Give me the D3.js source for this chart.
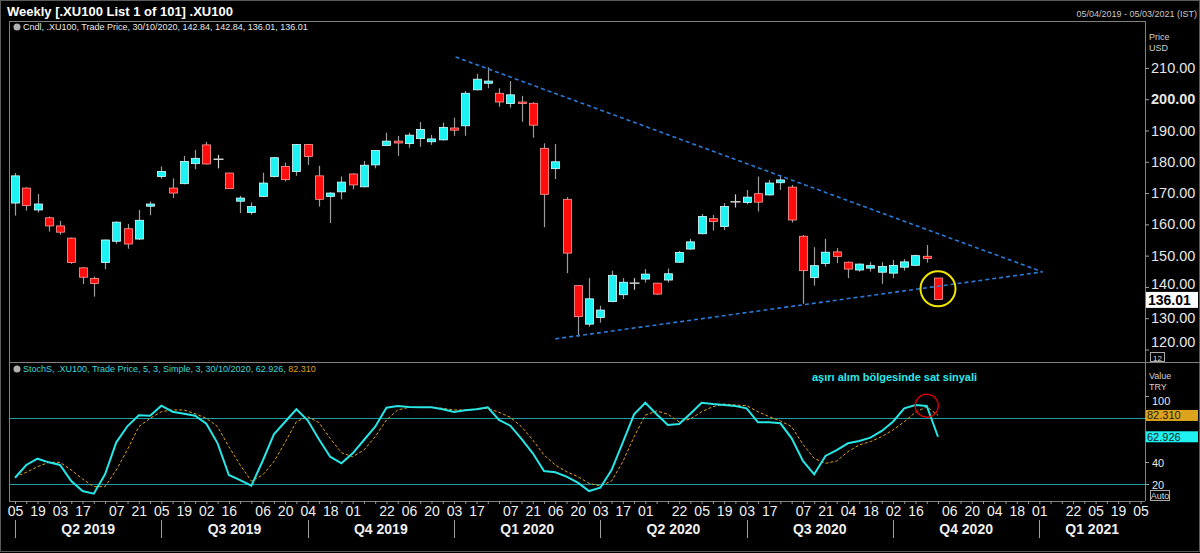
<!DOCTYPE html>
<html>
<head>
<meta charset="utf-8">
<script src="https://d3js.org/d3.v7.min.js"></script>
<style>
  body { margin: 0; background: #000; }
  svg { display: block; font-family: "Liberation Sans", Arial, sans-serif; }
</style>
</head>
<body>
<svg id="chart" width="1200" height="553"></svg>
<script>
// weekly .XU100 candles, one per Friday from 05/04/2019 to 30/10/2020
const opens = [166.8,171.6,164.6,162.1,159.5,155.6,146.1,142.7,147.8,154.6,
  158.6,155.3,165.8,175.3,171.6,173.0,179.4,185.4,180.8,176.4,
  167.4,163.8,168.9,175.3,178.5,176.9,185.5,175.5,168.9,170.4,
  176.1,172.0,179.0,185.2,186.6,185.8,187.4,186.4,187.0,190.8,
  191.5,203.0,205.1,201.9,198.6,199.1,198.7,184.3,177.8,168.0,
  140.4,128.1,130.2,135.3,137.5,141.2,142.5,141.2,142.2,147.9,
  152.1,157.0,161.8,159.3,167.2,167.0,169.8,169.4,173.3,171.9,
  156.2,143.0,147.5,151.2,147.9,145.4,146.0,144.7,144.4,146.3,
  146.9,149.8,142.84];
const highs = [176.4,171.8,169.7,162.5,161.1,155.8,146.3,143.3,155.2,161.0,
  160.1,164.6,167.3,178.5,174.7,181.9,183.8,186.4,182.2,176.5,
  169.1,167.0,176.5,181.5,179.7,185.7,185.7,178.7,170.3,175.3,
  176.3,180.3,183.8,189.3,188.3,189.3,192.7,188.6,192.5,194.1,
  202.6,208.1,210.2,203.5,205.8,201.1,199.0,185.9,185.7,168.7,
  140.6,142.8,134.0,145.2,142.8,142.8,145.7,141.3,145.9,151.5,
  155.4,163.3,163.0,166.8,169.6,171.0,175.3,174.2,175.8,172.6,
  156.6,152.7,155.4,152.4,148.1,147.5,147.9,147.9,148.6,148.9,
  150.3,153.4,142.84];
const lows = [162.8,164.4,163.8,157.7,156.7,147.4,140.9,136.9,145.7,153.8,
  152.2,155.0,162.9,174.6,168.4,172.8,177.6,179.1,177.9,171.3,
  163.6,163.1,168.7,175.0,173.7,175.5,179.0,165.7,160.4,168.0,
  171.2,171.8,177.9,185.0,181.9,184.5,184.8,185.4,186.8,188.3,
  188.3,202.8,203.5,197.6,197.3,192.8,187.7,159.1,174.5,144.4,
  124.1,127.3,128.6,135.1,136.1,139.1,141.4,137.5,141.4,147.7,
  151.9,156.8,158.0,158.2,165.4,166.4,164.1,169.2,171.0,160.6,
  134.6,140.4,146.5,147.6,142.8,144.9,144.9,141.0,142.8,145.2,
  146.7,147.8,136.01];
const closes = [175.5,166.0,166.5,159.5,157.5,147.8,143.1,141.1,155.0,160.7,
  153.7,161.3,166.5,176.9,170.0,180.1,181.1,179.3,180.8,171.4,
  168.4,165.7,173.2,181.3,174.3,185.5,181.7,168.0,170.0,173.5,
  172.6,178.9,183.6,186.6,186.0,188.5,190.3,187.3,191.0,190.1,
  201.9,206.4,205.8,199.1,201.4,198.6,191.7,169.6,180.0,150.8,
  130.5,136.2,132.6,143.7,141.5,141.2,144.1,137.7,144.2,151.0,
  154.4,162.5,160.9,165.7,167.2,168.7,167.1,173.2,174.2,161.4,
  145.2,146.8,151.1,149.7,145.7,147.3,146.8,146.5,146.9,148.0,
  150.0,149.1,136.01];

// slow stochastic (5, 3, simple, 3)
const stochK = [25.7,37.3,43.0,39.7,37.3,22.7,13.6,11.2,28.8,57.9,
  72.7,82.4,82.1,91.2,85.7,83.9,82.1,74.8,57.0,28.2,
  23.6,18.5,40.9,65.2,76.6,87.9,77.9,60.6,44.8,38.8,
  47.9,60.0,72.1,89.4,90.9,90.0,89.7,89.7,87.9,85.5,
  87.0,87.9,89.7,78.2,73.0,61.0,47.9,31.8,30.6,26.7,
  21.2,13.6,16.6,32.7,57.9,83.4,93.9,83.4,73.6,74.5,
  83.9,93.9,92.7,91.8,90.9,88.8,76.1,76.1,75.2,61.5,
  40.9,28.8,45.5,50.9,57.0,59.1,62.1,68.2,76.6,88.8,
  91.8,90.9,62.926];
const stochD = [26.4,30.6,35.7,39.7,39.7,32.7,24.5,17.6,17.6,32.7,
  51.5,72.1,79.7,85.7,87.3,87.3,83.9,79.7,72.1,53.9,
  37.3,22.7,28.2,40.3,57.9,76.6,81.2,75.8,61.5,48.5,
  44.8,50.9,63.0,78.2,87.3,89.7,89.7,89.7,88.8,87.3,
  87.3,87.9,88.8,85.2,80.6,72.1,60.0,46.4,37.3,31.2,
  26.7,20.6,18.2,22.7,40.3,63.0,82.7,86.4,83.4,76.6,
  79.1,85.7,90.3,92.7,91.8,91.2,85.7,81.2,77.3,72.1,
  56.1,43.3,38.8,40.9,49.4,55.5,58.5,63.0,69.1,76.6,
  85.2,90.3,82.31];

// axis labels
const priceTicks = [120,130,140,150,160,170,180,190,200,210];
const stochTicks = [20,40,60,80,100];
const stochLabelled = [20,40,100];   // 60 and 80 sit under the value boxes
const dateLabels = ["2019-04-05","2019-04-19","2019-05-03","2019-05-17","2019-06-07","2019-06-21",
  "2019-07-05","2019-07-19","2019-08-02","2019-08-16","2019-09-06","2019-09-20","2019-10-04",
  "2019-10-18","2019-11-01","2019-11-22","2019-12-06","2019-12-20","2020-01-03","2020-01-17",
  "2020-02-07","2020-02-21","2020-03-06","2020-03-20","2020-04-03","2020-04-17","2020-05-01",
  "2020-05-22","2020-06-05","2020-06-19","2020-07-03","2020-07-17","2020-08-07","2020-08-21",
  "2020-09-04","2020-09-18","2020-10-02","2020-10-16","2020-11-06","2020-11-20","2020-12-04",
  "2020-12-18","2021-01-01","2021-01-22","2021-02-05","2021-02-19","2021-03-05"];
const quarterStarts = ["2019-04-05","2019-07-05","2019-10-04","2020-01-03","2020-04-03",
  "2020-07-03","2020-10-02","2021-01-01"];
const quarterNames = ["Q2 2019","Q3 2019","Q4 2019","Q1 2020","Q2 2020","Q3 2020","Q4 2020","Q1 2021"];

// triangle drawn on the price panel
const upperTrend = [{date: "2020-01-04", price: 213.5}, {date: "2021-01-03", price: 144.8}];
const lowerTrend = [{date: "2020-03-06", price: 123.4}, {date: "2021-01-03", price: 144.8}];
const priceMark = {date: "2020-10-30", price: 139.4};
const stochMark = {date: "2020-10-23", value: 91.2};

const parse = d3.timeParse("%Y-%m-%d");
const weeks = d3.timeFriday.range(new Date(2019, 3, 5), new Date(2020, 9, 31));
const allWeeks = d3.timeFriday.range(new Date(2019, 3, 5), new Date(2021, 2, 6));

const pLeft = 9, pRight = 1145, pTop = 21, pMid = 362, pBottom = 501;

const x = d3.scaleTime()
    .domain([new Date(2019, 3, 5), new Date(2020, 9, 30)])
    .range([15, 938]);
const yP = d3.scaleLinear().domain([116, 225]).range([pMid, pTop]);
const yS = d3.scaleLinear().domain([0, 100]).range([506, 396]);

const svg = d3.select("#chart");
svg.append("rect").attr("width", 1200).attr("height", 553).attr("fill", "#000");

let defs = svg.append("defs");
defs.append("clipPath").attr("id", "clipP").append("rect")
    .attr("x", pLeft).attr("y", pTop).attr("width", pRight - pLeft).attr("height", pMid - pTop);
defs.append("clipPath").attr("id", "clipS").append("rect")
    .attr("x", pLeft).attr("y", pMid).attr("width", pRight - pLeft).attr("height", pBottom - pMid);

// frame
svg.append("rect").attr("x", 0.5).attr("y", 0.5).attr("width", 1199).attr("height", 551)
    .attr("fill", "none").attr("stroke", "#5a5a5a");
let frame = svg.append("g").attr("stroke", "#808080").attr("shape-rendering", "crispEdges");
frame.append("line").attr("x1", pLeft).attr("x2", pRight).attr("y1", pTop).attr("y2", pTop);
frame.append("line").attr("x1", pLeft).attr("x2", 1200).attr("y1", pMid).attr("y2", pMid);
frame.append("line").attr("x1", pLeft).attr("x2", pRight).attr("y1", pBottom).attr("y2", pBottom);
frame.append("line").attr("x1", pLeft).attr("x2", pLeft).attr("y1", pTop).attr("y2", pBottom);
frame.append("line").attr("x1", pRight).attr("x2", pRight).attr("y1", pTop).attr("y2", pBottom);

// header
svg.append("text").attr("x", 7).attr("y", 16).attr("fill", "#fff")
    .attr("font-size", 13).attr("font-weight", "bold")
    .text("Weekly [.XU100 List 1 of 101] .XU100");
svg.append("text").attr("x", 1197).attr("y", 17).attr("text-anchor", "end")
    .attr("fill", "#c8c8c8").attr("font-size", 9)
    .text("05/04/2019 - 05/03/2021 (IST)");

// ---- price panel ----
let candles = weeks.map((d, i) => ({date: d, o: opens[i], h: highs[i], l: lows[i], c: closes[i]}));
let pp = svg.append("g").attr("clip-path", "url(#clipP)");
const bw = 8;
const cx = d => Math.round(x(d.date)) + 0.5;

pp.selectAll(".wick").data(candles).join("line")
    .attr("class", "wick")
    .attr("x1", cx).attr("x2", cx)
    .attr("y1", d => yP(d.h)).attr("y2", d => yP(d.l))
    .attr("stroke", d => d.o === d.c ? "#d0d0d0" : "#9c9c9c")
    .attr("stroke-width", 1.2);

pp.selectAll(".body").data(candles.filter(d => d.o !== d.c)).join("rect")
    .attr("class", "body")
    .attr("x", d => cx(d) - bw / 2).attr("width", bw)
    .attr("y", d => yP(Math.max(d.o, d.c)))
    .attr("height", d => Math.max(1.5, Math.abs(yP(d.o) - yP(d.c))))
    .attr("fill", d => d.c > d.o ? "#1ff2f2" : "#ff0d0d")
    .attr("stroke", d => d.c > d.o ? "#d8ffff" : "#ff9a9a")
    .attr("stroke-width", 0.8);

pp.selectAll(".doji").data(candles.filter(d => d.o === d.c)).join("line")
    .attr("class", "doji")
    .attr("x1", d => cx(d) - bw / 2 - 1).attr("x2", d => cx(d) + bw / 2 + 1)
    .attr("y1", d => yP(d.o)).attr("y2", d => yP(d.o))
    .attr("stroke", "#d0d0d0").attr("stroke-width", 1.5);

let trendLine = d3.line().x(d => x(parse(d.date))).y(d => yP(d.price));
[upperTrend, lowerTrend].forEach(t => {
    pp.append("path").attr("d", trendLine(t))
        .attr("fill", "none").attr("stroke", "#2a7ad8")
        .attr("stroke-width", 1.6).attr("stroke-dasharray", "4,3");
});

pp.append("circle")
    .attr("cx", x(parse(priceMark.date))).attr("cy", yP(priceMark.price))
    .attr("r", 17.5).attr("fill", "none").attr("stroke", "#f2e600").attr("stroke-width", 2);

svg.append("circle").attr("cx", 17).attr("cy", 27).attr("r", 3.5).attr("fill", "#b0b0b0");
svg.append("text").attr("x", 23).attr("y", 30).attr("fill", "#e8e8e8").attr("font-size", 9)
    .text("Cndl, .XU100, Trade Price, 30/10/2020, 142.84, 142.84, 136.01, 136.01");

// price axis
let pAxis = svg.append("g").attr("transform", `translate(${pRight},0)`)
    .call(d3.axisRight(yP).tickValues(priceTicks).tickSize(4).tickPadding(2)
        .tickFormat(d3.format(".2f")));
pAxis.select(".domain").remove();
pAxis.selectAll("line").attr("stroke", "#a0a0a0");
pAxis.selectAll("text").attr("fill", "#e6e6e6").attr("font-size", 14.5)
    .attr("font-family", "Liberation Sans, Arial, sans-serif")
    .attr("font-weight", d => d === 200 ? "bold" : "normal")
    .attr("dy", d => d === 120 ? "-0.2em" : d === 140 ? "0.1em" : "0.32em");

svg.append("text").attr("x", 1149).attr("y", 40).attr("fill", "#d0d0d0").attr("font-size", 9).text("Price");
svg.append("text").attr("x", 1149).attr("y", 51).attr("fill", "#d0d0d0").attr("font-size", 9).text("USD");

let last = candles[candles.length - 1];
svg.append("rect").attr("x", 1146).attr("y", yP(last.c) - 7.5).attr("width", 52).attr("height", 16)
    .attr("fill", "#fff");
svg.append("text").attr("x", 1148).attr("y", yP(last.c) + 6).attr("fill", "#000")
    .attr("font-size", 14).attr("font-weight", "bold").text(last.c.toFixed(2));

svg.append("rect").attr("x", 1150.5).attr("y", 352.5).attr("width", 14).attr("height", 9)
    .attr("fill", "none").attr("stroke", "#aaa");
svg.append("text").attr("x", 1157.5).attr("y", 360.5).attr("text-anchor", "middle")
    .attr("fill", "#ddd").attr("font-size", 8).text("12");

// ---- stochastic panel ----
let sp = svg.append("g").attr("clip-path", "url(#clipS)");
let stoch = weeks.map((d, i) => ({date: d, k: stochK[i], d: stochD[i]}));

[80, 20].forEach(v => {
    sp.append("line").attr("x1", pLeft).attr("x2", pRight)
        .attr("y1", Math.round(yS(v)) + 0.5).attr("y2", Math.round(yS(v)) + 0.5)
        .attr("stroke", "#1d9d9d");
});

sp.append("path").datum(stoch)
    .attr("d", d3.line().x(d => x(d.date)).y(d => yS(d.d)))
    .attr("fill", "none").attr("stroke", "#e0a020").attr("stroke-width", 1)
    .attr("stroke-dasharray", "3,2");
sp.append("path").datum(stoch)
    .attr("d", d3.line().x(d => x(d.date)).y(d => yS(d.k)))
    .attr("fill", "none").attr("stroke", "#28e6e6").attr("stroke-width", 2);

sp.append("circle")
    .attr("cx", x(parse(stochMark.date))).attr("cy", yS(stochMark.value))
    .attr("r", 11.5).attr("fill", "none").attr("stroke", "#d00000").attr("stroke-width", 1.5);

svg.append("text").attr("x", 812).attr("y", 381).attr("fill", "#2de8e8")
    .attr("font-size", 11).attr("font-weight", "bold")
    .text("aşırı alım bölgesinde sat sinyali");

svg.append("circle").attr("cx", 17).attr("cy", 369).attr("r", 3.5).attr("fill", "#b0b0b0");
let sl = svg.append("text").attr("x", 23).attr("y", 372).attr("font-size", 9);
sl.append("tspan").attr("fill", "#3fd8d8")
    .text("StochS, .XU100, Trade Price,  5, 3, Simple, 3, 30/10/2020, 62.926, ");
sl.append("tspan").attr("fill", "#d9a21b").text("82.310");

let sAxis = svg.append("g").attr("transform", `translate(${pRight},0)`)
    .call(d3.axisRight(yS).tickValues(stochTicks).tickSize(4).tickPadding(3)
        .tickFormat(d => stochLabelled.includes(d) ? d : ""));
sAxis.select(".domain").remove();
sAxis.selectAll("line").attr("stroke", "#a0a0a0");
sAxis.selectAll("text").attr("fill", "#e6e6e6").attr("font-size", 11)
    .attr("font-family", "Liberation Sans, Arial, sans-serif")
    .attr("dy", d => d === 100 ? "0.75em" : "0.45em");

svg.append("text").attr("x", 1149).attr("y", 379).attr("fill", "#d0d0d0").attr("font-size", 9).text("Value");
svg.append("text").attr("x", 1149).attr("y", 390).attr("fill", "#d0d0d0").attr("font-size", 9).text("TRY");

let lastS = stoch[stoch.length - 1];
[[lastS.d, "#dca41c"], [lastS.k, "#1ff0f0"]].forEach(([v, col]) => {
    svg.append("rect").attr("x", 1146).attr("y", yS(v) - 5.5).attr("width", 52).attr("height", 11)
        .attr("fill", col);
    svg.append("text").attr("x", 1147).attr("y", yS(v) + 4).attr("fill", "#1a1a1a")
        .attr("font-size", 11).text(v.toFixed(3));
});

svg.append("rect").attr("x", 1150.5).attr("y", 490.5).attr("width", 19).attr("height", 10)
    .attr("fill", "none").attr("stroke", "#aaa");
svg.append("text").attr("x", 1160).attr("y", 499).attr("text-anchor", "middle")
    .attr("fill", "#ddd").attr("font-size", 9).text("Auto");

// ---- time axis ----
let minor = svg.append("g").attr("transform", `translate(0,${pBottom})`)
    .call(d3.axisBottom(x).tickValues(allWeeks).tickSize(3).tickFormat(""));
minor.select(".domain").remove();
minor.selectAll("line").attr("stroke", "#9a9a9a");

let dAxis = svg.append("g").attr("transform", `translate(0,${pBottom})`)
    .call(d3.axisBottom(x).tickValues(dateLabels.map(parse)).tickSize(0).tickPadding(5)
        .tickFormat(d3.timeFormat("%d")));
dAxis.select(".domain").remove();
dAxis.selectAll("text").attr("fill", "#f0f0f0").attr("font-size", 14)
    .attr("font-family", "Liberation Sans, Arial, sans-serif");

let qx = quarterStarts.map(s => x(parse(s)));
qx.forEach(v => {
    svg.append("line").attr("x1", Math.round(v) + 0.5).attr("x2", Math.round(v) + 0.5)
        .attr("y1", 520).attr("y2", 538).attr("stroke", "#a0a0a0");
});
quarterNames.forEach((q, i) => {
    let a = qx[i], b = i + 1 < qx.length ? qx[i + 1] : pRight;
    svg.append("text").attr("x", (a + b) / 2).attr("y", 534).attr("text-anchor", "middle")
        .attr("fill", "#f0f0f0").attr("font-size", 14).attr("font-weight", "bold").text(q);
});
</script>
</body>
</html>
